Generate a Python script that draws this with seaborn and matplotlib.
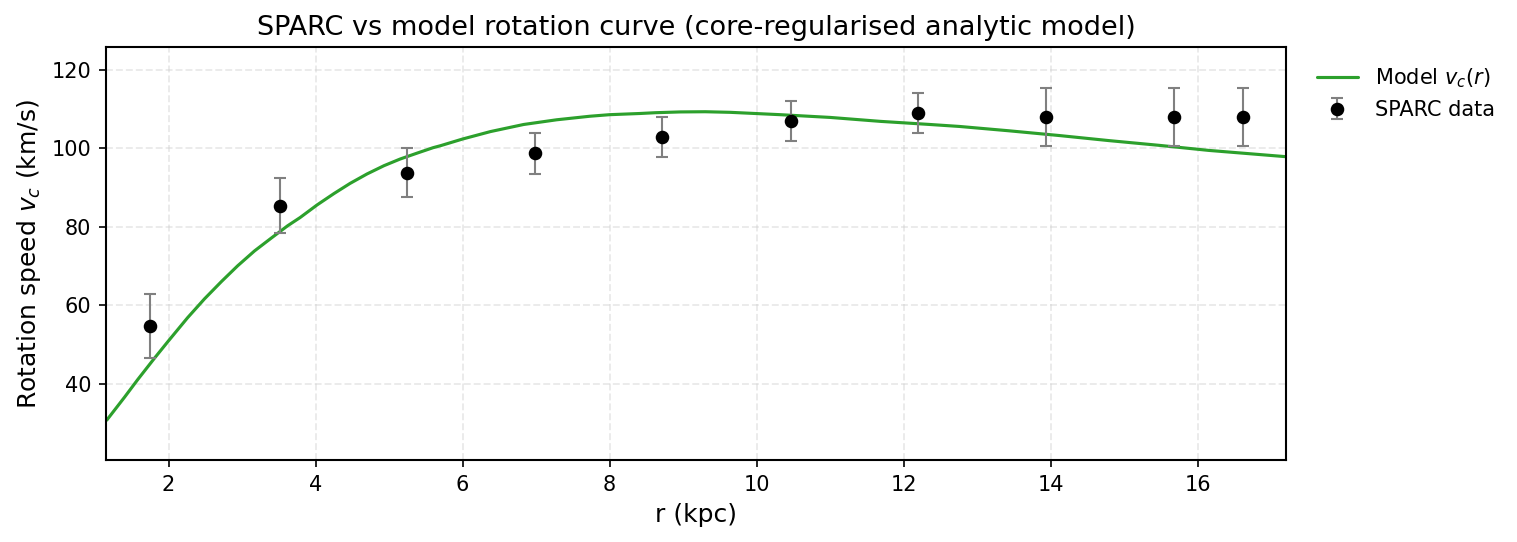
import numpy as np
import pandas as pd
import matplotlib
matplotlib.use("Agg")
import matplotlib.pyplot as plt
import seaborn as sns

r_obs = [1.75, 3.51, 5.25, 6.99, 8.71, 10.47, 12.19, 13.94, 15.68, 16.61]
v_obs = [54.6, 85.3, 93.7, 98.7, 102.8, 106.9, 108.9, 107.9, 107.9, 107.9]
v_err = [8.2, 7.0, 6.2, 5.2, 5.2, 5.0, 5.1, 7.4, 7.4, 7.4]

# model curve
r_model = [1.16, 1.40, 1.58, 1.81, 2.00, 2.26, 2.49, 2.72, 2.94, 3.17, 3.40,
           3.62, 3.79, 4.02, 4.25, 4.47, 4.70, 4.93, 5.15, 5.38, 5.60, 5.70,
           6.00, 6.38, 6.83, 7.28, 7.73, 8.00, 8.41, 8.62, 8.96, 9.30, 9.64,
           10.32, 11.00, 11.68, 12.36, 12.76, 13.43, 14.11, 14.79, 15.47,
           16.15, 17.20]
v_model = [30.7, 36.5, 41.0, 46.5, 50.9, 56.8, 61.6, 66.0, 70.0, 73.8, 77.1,
           80.2, 82.3, 85.5, 88.4, 91.0, 93.4, 95.5, 97.2, 98.7, 100.1, 100.6,
           102.3, 104.2, 106.0, 107.2, 108.1, 108.5, 108.8, 109.0, 109.2, 109.25,
           109.1, 108.5, 107.8, 106.8, 106.0, 105.5, 104.4, 103.2, 101.9, 100.7,
           99.4, 97.8]

model = pd.DataFrame({"r": r_model, "v": v_model})

sns.set_theme(style="ticks")
plt.rcParams["font.family"] = ["DejaVu Sans"]
plt.rcParams["text.color"] = "black"
plt.rcParams["axes.labelcolor"] = "black"

fig = plt.figure(figsize=(1517 / 150, 542 / 150), dpi=150)
ax = fig.add_axes([0.0699, 0.151, 0.7778, 0.762])

sns.lineplot(data=model, x="r", y="v", ax=ax, color="#2ca02c", linewidth=1.5,
             label=r"Model $v_c(r)$")
ax.errorbar(r_obs, v_obs, yerr=v_err, fmt="o", color="black", markersize=5.5,
            ecolor="gray", elinewidth=1, capsize=3, capthick=1,
            label="SPARC data")

ax.set_xlim(1.15, 17.2)
ax.set_ylim(20.5, 125.7)
ax.set_xticks([2, 4, 6, 8, 10, 12, 14, 16])
ax.set_yticks([40, 60, 80, 100, 120])
ax.grid(True, linestyle="--", color="#cccccc", alpha=0.4, linewidth=0.9)
for s in ax.spines.values():
    s.set_color("black")
    s.set_linewidth(1.0)
ax.tick_params(labelsize=10, colors="black", length=3.5, width=0.8)

ax.set_title("SPARC vs model rotation curve (core-regularised analytic model)",
             fontsize=13)
ax.set_xlabel("r (kpc)", fontsize=12)
ax.set_ylabel(r"Rotation speed $v_c$ (km/s)", fontsize=12)

ax.legend(loc="upper left", bbox_to_anchor=(1.01, 1.0), frameon=False, fontsize=10)

fig.savefig("out.png", dpi=150)
